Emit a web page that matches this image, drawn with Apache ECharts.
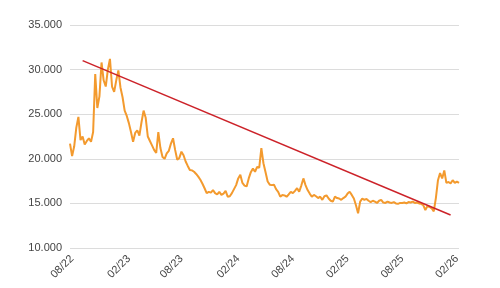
<!DOCTYPE html>
<html>
<head>
<meta charset="utf-8">
<script src="https://cdn.jsdelivr.net/npm/echarts@6/dist/echarts.min.js"></script>
<style>
  html, body { margin: 0; padding: 0; background: #fff; }
  #chart { width: 500px; height: 288px; }
</style>
</head>
<body>
<div id="chart"></div>
<script>
// weekly closes, first week = 2022-07-26
var startDate = '2022-07-26';
var prices = [
  21700, 20300, 21400, 23500, 24700, 22100, 22500, 21600, 22000, 22300,
  21900, 23000, 29500, 25700, 27000, 30800, 28800, 28100, 30000, 31200,
  28100, 27500, 28800, 29900, 28000, 26900, 25400, 24800, 24000, 23000,
  21900, 22900, 23200, 22600, 24100, 25400, 24600, 22500, 22000, 21500,
  21000, 20650, 23000, 21200, 20200, 20000, 20600, 20900, 21700, 22300,
  21000, 19900, 20100, 20800, 20400, 19700, 19200, 18750, 18700, 18550,
  18300, 18000, 17650, 17200, 16700, 16150, 16300, 16200, 16500, 16150,
  16000, 16300, 15950, 16100, 16400, 15750, 15800, 16150, 16600, 17050,
  17800, 18200, 17300, 17000, 16900, 17800, 18500, 18900, 18550, 19100,
  19000, 21200, 19500, 18500, 17450, 17100, 17050, 17100, 16600, 16300,
  15750, 15950, 15900, 15750, 16000, 16300, 16150, 16400, 16700, 16300,
  17000, 17800, 17050, 16500, 16100, 15750, 15950, 15800, 15600, 15750,
  15400, 15800, 15900, 15550, 15300, 15200, 15750, 15600, 15550, 15400,
  15600, 15750, 16100, 16300, 15950, 15550, 14800, 13900, 15200, 15550,
  15400, 15500, 15300, 15150, 15300, 15200, 15050, 15300, 15400, 15100,
  15050, 15200, 15100, 15050, 15150, 15000, 14950, 15050, 15050, 15100,
  15000, 15150, 15100, 15200, 15050, 15100, 15000, 14950, 14800, 14250,
  14700, 14600, 14450, 14100, 15600, 17600, 18400, 17800, 18700, 17300,
  17400, 17250, 17600, 17300, 17450, 17300
];
var tickLabels = ['08/22', '02/23', '08/23', '02/24', '08/24', '02/25', '08/25', '02/26'];
// trend line: [week index, value]
var trendStart = [6, 31000];
var trendEnd = [181, 13700];

function pad(n) { return n < 10 ? '0' + n : '' + n; }
var categories = [];
var t0 = new Date(startDate + 'T00:00:00Z').getTime();
for (var i = 0; i < prices.length; i++) {
  var d = new Date(t0 + i * 7 * 86400000);
  categories.push(pad(d.getUTCMonth() + 1) + '/' + pad(d.getUTCFullYear() % 100));
}

function showLabel(idx) {
  var c = categories[idx];
  if (tickLabels.indexOf(c) < 0) return false;
  return idx === 0 ? false : categories[idx - 1] !== c;
}

var chart = echarts.init(document.getElementById('chart'));
var option = {
  animation: false,
  grid: { left: 70, right: 41, top: 25, bottom: 40 },
  xAxis: {
    type: 'category',
    data: categories,
    boundaryGap: false,
    axisLine: { show: false },
    axisTick: { show: false },
    splitLine: { show: false },
    axisLabel: {
      interval: showLabel,
      rotate: 45,
      margin: 9,
      fontFamily: 'Liberation Sans',
      fontSize: 11,
      color: '#444'
    }
  },
  yAxis: {
    type: 'value',
    min: 10000,
    max: 35000,
    interval: 5000,
    axisLine: { show: false },
    axisTick: { show: false },
    splitLine: { lineStyle: { color: '#dcdcdc', width: 1 } },
    axisLabel: {
      margin: 8,
      fontFamily: 'Liberation Sans',
      fontSize: 11,
      color: '#444',
      formatter: function (v) {
        return String(v).replace(/\B(?=(\d{3})+(?!\d))/g, '.');
      }
    }
  },
  series: [
    {
      type: 'line',
      data: prices,
      showSymbol: false,
      lineStyle: { color: '#f39a2e', width: 2 },
      itemStyle: { color: '#f39a2e' }
    },
    {
      type: 'line',
      data: [trendStart, trendEnd],
      showSymbol: false,
      lineStyle: { color: '#cc2229', width: 1.5 },
      itemStyle: { color: '#cc2229' }
    }
  ]
};
chart.setOption(option);
</script>
</body>
</html>
